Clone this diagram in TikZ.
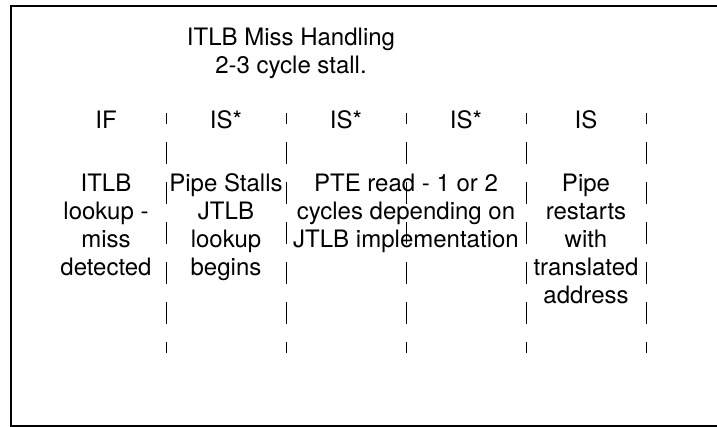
\documentclass[tikz,border=0pt]{standalone}
\usepackage{fontspec}
\setmainfont{TeX Gyre Heros}

\begin{document}
\begin{tikzpicture}[x=1pt,y=-1pt,
  lbl/.style={font=\fontsize{24}{28}\selectfont, align=center,
    inner sep=0pt, anchor=base},
  sep/.style={line width=1pt, dash pattern=on 22pt off 18pt, dash phase=11pt}]
  \pgfmathsetmacro{\hY}{129}
  \pgfmathsetmacro{\bY}{192}
  \pgfmathsetmacro{\lS}{28}

  \useasboundingbox (0,0) rectangle (717,427);
  \clip (0,0) rectangle (717,427);
  \draw[line width=2pt] (11,6) rectangle (730,426);

  % base anchor sits on the last line
  \node[lbl] (title) at (291,74) {ITLB Miss Handling\\2-3 cycle stall.};

  % stage names
  \node[lbl] (hIF) at (106,\hY) {IF};
  \node[lbl] (hISa) at (226,\hY) {IS*};
  \node[lbl] (hISb) at (346,\hY) {IS*};
  \node[lbl] (hISc) at (466,\hY) {IS*};
  \node[lbl] (hIS) at (586,\hY) {IS};

  % what happens in each stage
  \node[lbl] (miss) at (106,{\bY+3*\lS}) {ITLB\\lookup -\\miss\\detected};
  \node[lbl] (stall) at (226,{\bY+3*\lS}) {Pipe Stalls\\JTLB\\lookup\\begins};
  \node[lbl] (pte) at (406,{\bY+2*\lS}) {PTE read - 1 or 2\\cycles depending on\\JTLB implementation};
  \node[lbl] (restart) at (586,{\bY+4*\lS}) {Pipe\\restarts\\with\\translated\\address};

  \foreach \x [count=\i] in {166,286,406,526,646}{
    \coordinate (t\i) at (\x,113);
    \coordinate (b\i) at (\x,353);
    \draw[sep] (t\i) -- (b\i);
  }
\end{tikzpicture}
\end{document}
